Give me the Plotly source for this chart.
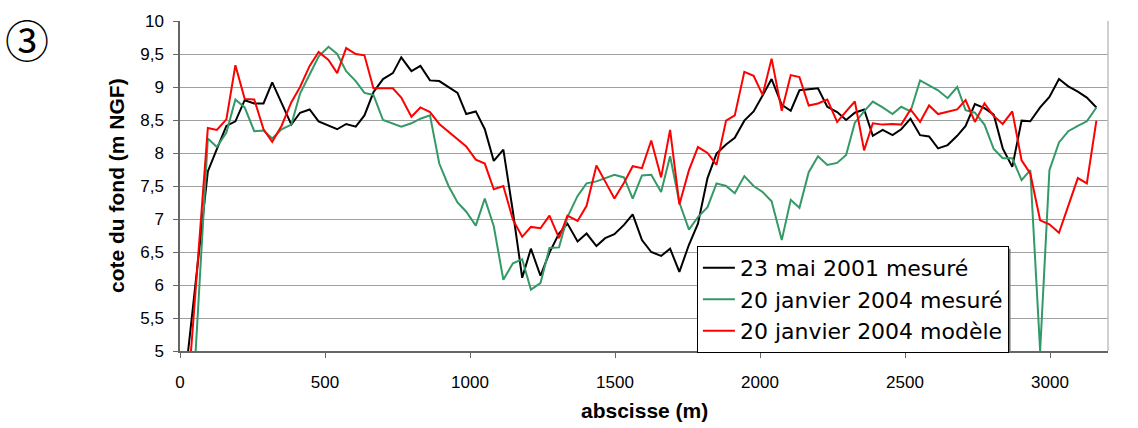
import plotly.graph_objects as go

# Common abscissa grid (m) shared by the three profiles
x_grid = [96, 127, 160, 191, 223, 256, 288, 318, 350, 384, 414, 447, 478, 512, 542,
          573, 606, 636, 667, 700, 734, 763, 798, 829, 862, 894, 926, 957, 987, 1020,
          1051, 1082, 1115, 1148, 1180, 1210, 1243, 1274, 1307, 1336, 1371, 1402, 1436, 1466, 1498,
          1531, 1561, 1593, 1625, 1659, 1690, 1722, 1755, 1786, 1819, 1850, 1883, 1913, 1946, 1978,
          2009, 2040, 2075, 2106, 2136, 2168, 2200, 2232, 2266, 2297, 2327, 2359, 2389, 2423, 2457,
          2487, 2519, 2552, 2583, 2614, 2647, 2680, 2709, 2741, 2774, 2806, 2837, 2870, 2902, 2932,
          2966, 2998, 3031, 3063, 3096, 3127, 3160]

# first (bank) point of each profile
x0_mai2001, y0_mai2001 = 28, 5.0
x0_jan2004_mes, y0_jan2004_mes = 54, 5.0
x0_jan2004_mod, y0_jan2004_mod = 38, 5.0

mai2001_mesure = [7.72, 8.06, 8.41, 8.48, 8.80, 8.75, 8.75, 9.07, 8.75, 8.43, 8.61, 8.66, 8.48, 8.42, 8.36,
                  8.44, 8.40, 8.57, 8.92, 9.12, 9.21, 9.45, 9.24, 9.32, 9.10, 9.09, 9.00, 8.91, 8.59, 8.63,
                  8.36, 7.88, 8.05, 7.11, 6.11, 6.55, 6.14, 6.49, 6.78, 6.93, 6.66, 6.78, 6.59, 6.71, 6.77,
                  6.91, 7.07, 6.68, 6.50, 6.44, 6.55, 6.20, 6.61, 6.93, 7.62, 7.99, 8.13, 8.23, 8.49, 8.63,
                  8.87, 9.12, 8.73, 8.64, 8.95, 8.97, 8.98, 8.70, 8.62, 8.50, 8.61, 8.66, 8.26, 8.35, 8.27,
                  8.36, 8.52, 8.27, 8.25, 8.07, 8.12, 8.26, 8.41, 8.74, 8.68, 8.58, 8.07, 7.79, 8.49, 8.48,
                  8.69, 8.85, 9.12, 9.01, 8.93, 8.84, 8.69]

jan2004_mesure = [8.22, 8.09, 8.31, 8.81, 8.69, 8.33, 8.34, 8.22, 8.36, 8.43, 8.90, 9.19, 9.46, 9.61, 9.50,
                  9.24, 9.09, 8.91, 8.88, 8.50, 8.44, 8.40, 8.45, 8.52, 8.57, 7.84, 7.50, 7.25, 7.11, 6.90,
                  7.31, 6.89, 6.08, 6.33, 6.39, 5.93, 6.03, 6.56, 6.57, 7.03, 7.35, 7.54, 7.57, 7.62, 7.67,
                  7.63, 7.31, 7.66, 7.67, 7.41, 7.95, 7.25, 6.84, 7.03, 7.18, 7.54, 7.50, 7.39, 7.65, 7.50,
                  7.41, 7.27, 6.68, 7.29, 7.17, 7.71, 7.95, 7.82, 7.85, 7.97, 8.46, 8.63, 8.78, 8.69, 8.59,
                  8.70, 8.63, 9.10, 9.03, 8.95, 8.83, 9.00, 8.65, 8.61, 8.43, 8.06, 7.92, 7.92, 7.59, 7.74,
                  5.00, 7.74, 8.16, 8.33, 8.41, 8.48, 8.69]

jan2004_modele = [8.38, 8.35, 8.51, 9.33, 8.82, 8.81, 8.36, 8.17, 8.41, 8.77, 9.00, 9.32, 9.53, 9.41, 9.21,
                  9.59, 9.50, 9.48, 8.98, 8.98, 8.98, 8.84, 8.55, 8.69, 8.62, 8.44, 8.32, 8.21, 8.10, 7.90,
                  7.84, 7.45, 7.50, 6.99, 6.73, 6.88, 6.86, 7.05, 6.71, 7.05, 6.97, 7.20, 7.81, 7.57, 7.31,
                  7.55, 7.80, 7.77, 8.19, 7.63, 8.35, 7.22, 7.74, 8.09, 8.00, 7.82, 8.49, 8.57, 9.23, 9.17,
                  8.88, 9.43, 8.64, 9.18, 9.15, 8.72, 8.75, 8.81, 8.47, 8.63, 8.78, 8.04, 8.45, 8.43, 8.44,
                  8.43, 8.66, 8.47, 8.72, 8.59, 8.63, 8.66, 8.80, 8.47, 8.75, 8.56, 8.44, 8.63, 7.89, 7.69,
                  6.98, 6.92, 6.79, 7.20, 7.62, 7.54, 8.49]

series_names = ["23 mai 2001 mesuré", "20 janvier 2004 mesuré", "20 janvier 2004 modèle"]
series_colors = ["#000000", "#339966", "#ff0000"]

FONT = "Liberation Sans, Arial, sans-serif"

fig = go.Figure()
for name, color, x0, y0, ys in [
    (series_names[0], series_colors[0], x0_mai2001, y0_mai2001, mai2001_mesure),
    (series_names[1], series_colors[1], x0_jan2004_mes, y0_jan2004_mes, jan2004_mesure),
    (series_names[2], series_colors[2], x0_jan2004_mod, y0_jan2004_mod, jan2004_modele),
]:
    fig.add_trace(go.Scatter(x=[x0] + x_grid, y=[y0] + ys, mode="lines", name=name,
                             line=dict(color=color, width=2)))

fig.update_layout(
    width=1138, height=428, autosize=False,
    margin=dict(l=180, r=30, t=12, b=77),
    paper_bgcolor="white", plot_bgcolor="white",
    separators=", ",
    font=dict(family=FONT, color="#000000", size=17),
    showlegend=True,
    legend=dict(x=0.557, y=(351 - 243) / 339, xanchor="left", yanchor="top",
                bgcolor="white", bordercolor="#000000", borderwidth=1,
                font=dict(size=22, family="DejaVu Sans, sans-serif"), itemwidth=32,
                tracegroupgap=0),
)
fig.update_xaxes(range=[0, 3200], dtick=500, tick0=0, showgrid=False, zeroline=False,
                 showline=True, linecolor="#666666", linewidth=1.5,
                 ticks="outside", ticklen=5, tickcolor="#666666",
                 tickfont=dict(size=17), ticklabelstandoff=10)
fig.update_yaxes(range=[5, 10], dtick=0.5, tick0=5, showgrid=True, gridcolor="#a0a0a0", gridwidth=1,
                 zeroline=False, showline=True, linecolor="#666666", linewidth=1.5,
                 ticks="outside", ticklen=5, tickcolor="#666666",
                 tickfont=dict(size=17), ticklabelstandoff=6)

# right border of plot area
fig.add_shape(type="line", xref="paper", yref="paper", x0=1, x1=1, y0=0, y1=1,
              line=dict(color="#c0c0c0", width=1.5))
# legend drop shadow
fig.add_shape(type="rect", xref="paper", yref="paper",
              x0=(700 - 180) / 928, x1=(1010.5 - 180) / 928, y0=(351 - 352.5) / 339, y1=(351 - 246) / 339,
              line=dict(width=0), fillcolor="#707070", layer="above")

# axis titles
fig.add_annotation(text="<b>abscisse (m)</b>", xref="paper", yref="paper", x=0.5, y=-0.18,
                   xanchor="center", yanchor="middle", showarrow=False, font=dict(size=21))
fig.add_annotation(text="<b>cote du fond (m NGF)</b>", xref="paper", yref="paper",
                   x=(116 - 180) / 928, y=0.5, textangle=-90,
                   xanchor="center", yanchor="middle", showarrow=False, font=dict(size=21))
# circled number
fig.add_annotation(text="③", xref="paper", yref="paper", x=(27 - 180) / 928, y=(351 - 30) / 339,
                   xanchor="center", yanchor="middle", showarrow=False,
                   font=dict(size=44, family="Noto Sans CJK JP"))

fig.write_html("out.html", config={"displayModeBar": False},
               post_script="document.body.style.margin='0';document.body.style.overflow='hidden';")
